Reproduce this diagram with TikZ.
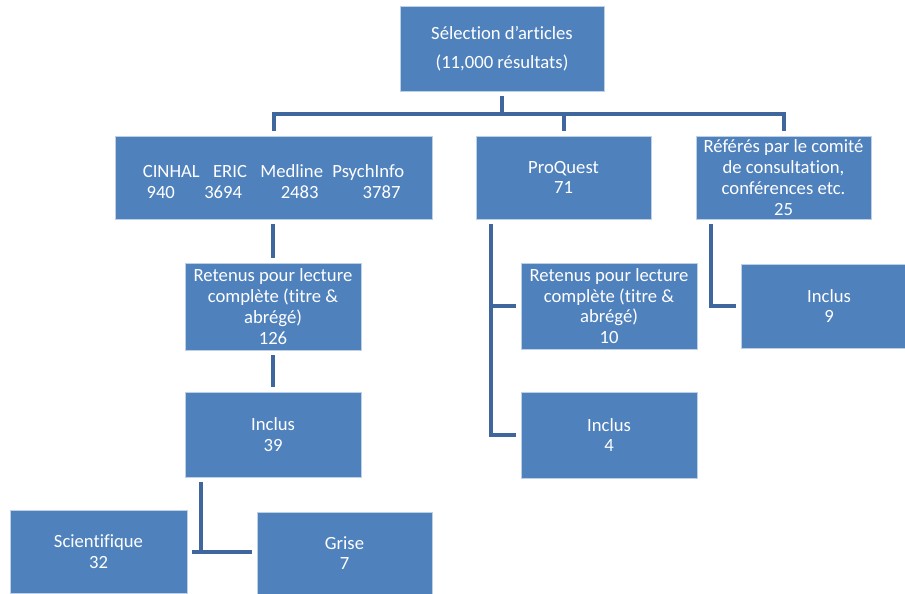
\documentclass[tikz,border=0pt]{standalone}
\usepackage{fontspec}
\setmainfont[Ligatures=NoCommon]{Carlito}
\usepackage{xcolor}
\definecolor{boiteBleu}{RGB}{79,129,189}
\definecolor{bordBleu}{RGB}{190,208,230}
\definecolor{lienBleu}{RGB}{63,103,158}

\begin{document}
\begin{tikzpicture}[x=0.75pt,y=-0.75pt,
boite/.style={rectangle, fill=boiteBleu, draw=bordBleu, line width=0.6pt, text=white,
  align=center, inner sep=0pt, outer sep=4pt, minimum width=132pt, minimum height=63.75pt,
  font=\fontsize{14}{15.6}\selectfont},
lien/.style={lienBleu, line width=3pt},
]

\useasboundingbox (0,0) rectangle (905,593);
\clip (0,0) rectangle (905,593);

%\draw[help lines,yellow,thin] (0,0) grid[step=50] (905,593);

\node [boite, minimum width=153pt] (sel) at (502,48.5){Sélection d’articles\\[6pt](11,000 résultats)};

\node [boite, minimum width=237.75pt, minimum height=62.25pt] (db) at (273.5,177.5){\mbox{}\\CINHAL\hspace{10pt}ERIC\hspace{10pt}Medline\hspace{7pt}PsychInfo\\940\hspace{22pt}3694\hspace{29pt}2483\hspace{33pt}3787};
\node [boite, minimum width=131.25pt, minimum height=62.25pt] (pq) at (563.5,177.5){ProQuest\\71};
\node [boite, minimum width=131.25pt, minimum height=62.25pt] (ref) at (783.5,177.5){Référés par le comité\\de consultation,\\conférences etc.\\25};

\node [boite, minimum height=65.25pt] (ret1) at (273,306.5){Retenus pour lecture\\complète (titre \&\\abrégé)\\126};
\node [boite] (inc1) at (273,434.5){Inclus\\39};

\node [boite, minimum width=132.75pt, minimum height=62.25pt] (sci) at (98.5,551.5){Scientifique\\32};
\node [boite, minimum width=131.25pt, minimum height=61.5pt] (gri) at (344.5,553){Grise\\7};

\node [boite, minimum height=64.5pt] (ret2) at (609,306){Retenus pour lecture\\complète (titre \&\\abrégé)\\10};
\node [boite, minimum height=64.5pt] (inc2) at (609,435){Inclus\\4};

\node [boite, minimum height=63pt] (inc3) at (829,306){Inclus\\9};

% liens
\coordinate (bus) at (502,114);
\coordinate (j1) at (201,552);
\coordinate (j2) at (491,306);
\coordinate (j3) at (711,306);

\draw[lien] (sel.south) -- (bus);
\draw[lien] (db.north) |- (bus) -| (ref.north);
\draw[lien] (pq.north) -- (pq.north |- bus);

\draw[lien] (db.south -| ret1.north) -- (ret1.north);
\draw[lien] (ret1) -- (inc1);
\draw[lien] (inc1.south -| j1) -- (j1);
\draw[lien] (sci.east |- j1) -- (gri.west |- j1);

\draw[lien] (pq.south -| j2) |- (inc2.west);
\draw[lien] (j2) -- (ret2.west);

\draw[lien] (ref.south -| j3) |- (inc3.west);
\end{tikzpicture}
\end{document}
